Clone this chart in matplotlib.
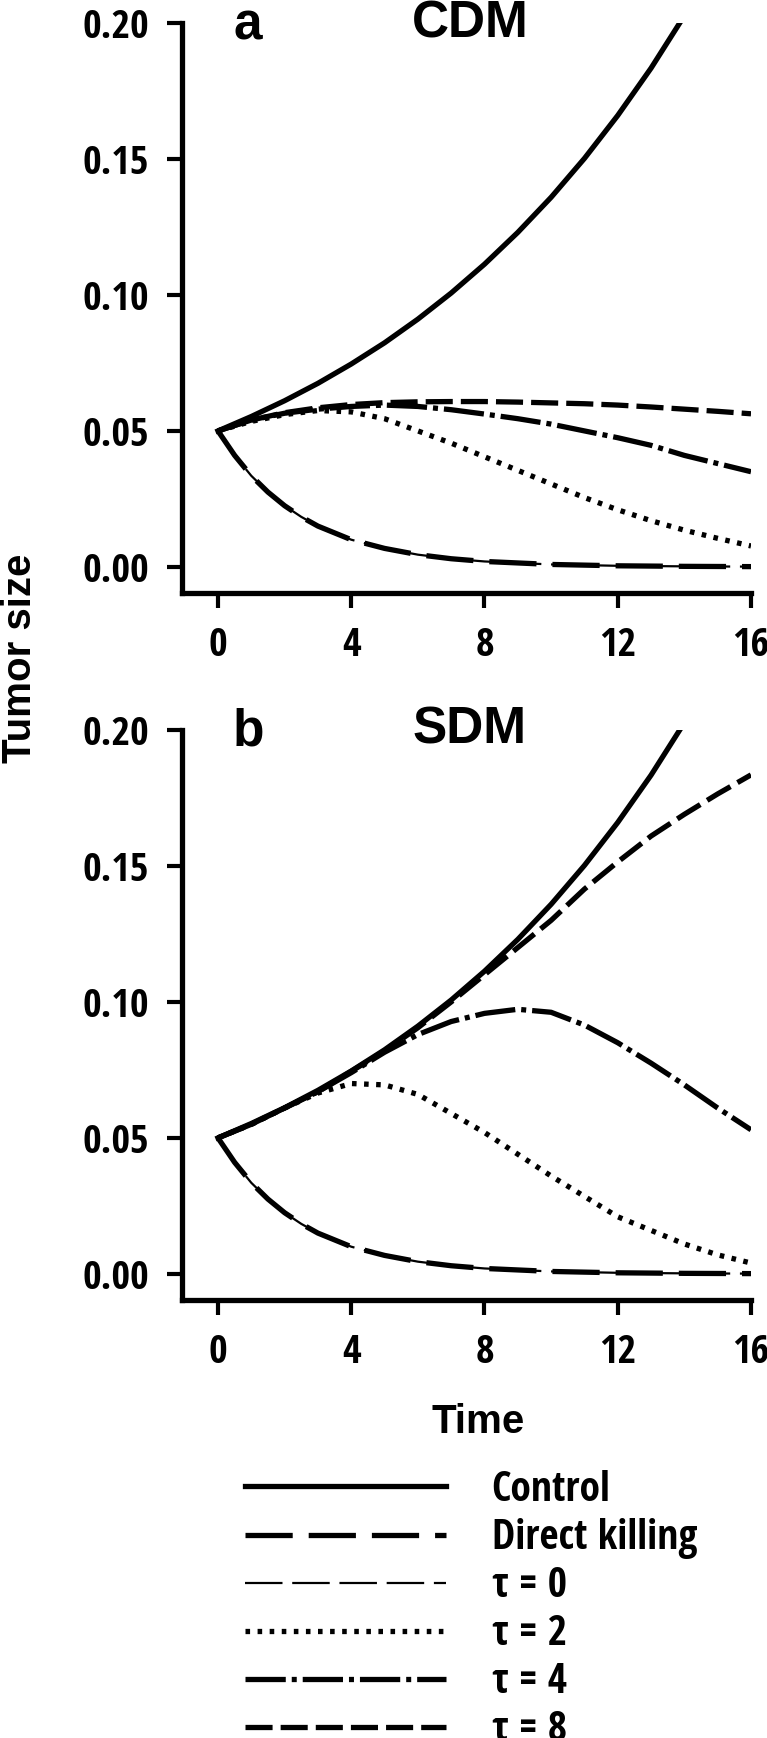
import numpy as np
import matplotlib
matplotlib.use('Agg')
import matplotlib.pyplot as plt
from matplotlib import font_manager
from matplotlib.font_manager import FontProperties

# look for a condensed bold sans face (ticks and legend use one in the original)
def find_narrow():
    best = None
    for f in font_manager.fontManager.ttflist:
        nm = f.name + ' ' + str(f.fname)
        cond = ('Narrow' in nm or 'Condensed' in nm or 'condensed' in str(f.stretch))
        bold = f.weight in (700, 'bold') or 'Bold' in str(f.fname)
        if cond and bold and f.style == 'normal' and 'Mono' not in nm and 'Serif' not in nm:
            if best is None or 'Sans' in nm:
                best = f.fname
    return best

narrow_file = find_narrow()
wide = 'Liberation Sans'
plt.rcParams['lines.scale_dashes'] = False

# values (tumor size vs time)
t_int = [0, 1, 2, 3, 4, 5, 6, 7, 8, 9, 10, 11, 12, 13, 14, 15, 16]
t_ctrl = [0, 1, 2, 3, 4, 5, 6, 7, 8, 9, 10, 11, 12, 13, 14]
control = [0.050, 0.0553, 0.0611, 0.0675, 0.0746, 0.0824, 0.0911, 0.1007, 0.1113, 0.1230, 0.1359, 0.1502, 0.1660, 0.1834, 0.2027]

t_kill = [0, 0.5, 1, 1.5, 2, 2.5, 3, 4, 5, 6, 7, 8, 10, 12, 14, 16]
direct_killing = [0.050, 0.041, 0.0335, 0.0275, 0.0225, 0.0184, 0.015, 0.010, 0.0068, 0.0045, 0.003, 0.002, 0.0009, 0.0004, 0.0002, 0.0001]
tau0 = direct_killing  # coincides with direct killing in both models

# CDM
cdm_tau2 = [0.050, 0.0535, 0.056, 0.0575, 0.057, 0.0545, 0.050, 0.0455, 0.0405, 0.0355, 0.0305, 0.0255, 0.021, 0.017, 0.0135, 0.0105, 0.0077]
cdm_tau4 = [0.050, 0.054, 0.0565, 0.058, 0.059, 0.0595, 0.059, 0.0578, 0.0562, 0.0545, 0.0525, 0.050, 0.0475, 0.0447, 0.041, 0.038, 0.035]
cdm_tau8 = [0.050, 0.054, 0.0567, 0.0585, 0.0597, 0.0604, 0.0607, 0.0608, 0.0608, 0.0606, 0.0603, 0.060, 0.0595, 0.0588, 0.058, 0.0572, 0.0563]

# SDM
sdm_tau2 = [0.050, 0.055, 0.061, 0.0665, 0.070, 0.0695, 0.066, 0.059, 0.052, 0.044, 0.036, 0.0285, 0.021, 0.016, 0.011, 0.007, 0.004]
sdm_tau4 = [0.050, 0.055, 0.061, 0.067, 0.074, 0.0815, 0.088, 0.0928, 0.0958, 0.0973, 0.0962, 0.0915, 0.085, 0.0775, 0.0695, 0.061, 0.053]
sdm_tau8 = [0.050, 0.055, 0.061, 0.067, 0.0745, 0.082, 0.0905, 0.100, 0.110, 0.120, 0.130, 0.1415, 0.1515, 0.161, 0.169, 0.1765, 0.1835]

xticks = [0, 4, 8, 12, 16]
yticks = [0.00, 0.05, 0.10, 0.15, 0.20]
legend_labels = ['Control', 'Direct killing', 'τ = 0', 'τ = 2', 'τ = 4', 'τ = 8']

if narrow_file:
    tick_fp = FontProperties(fname=narrow_file, size=29)
    leg_fp = FontProperties(fname=narrow_file, size=30)
else:
    tick_fp = FontProperties(family=wide, weight='bold', size=25)
    leg_fp = FontProperties(family=wide, weight='bold', size=26)

W, H = 767, 1738
fig = plt.figure(figsize=(W / 100, H / 100), dpi=100)

panels = [
    ('a', 'CDM', cdm_tau2, cdm_tau4, cdm_tau8, 0),
    ('b', 'SDM', sdm_tau2, sdm_tau4, sdm_tau8, 707),
]

lw = 3.8
handles = None
for letter, title, tau2, tau4, tau8, off in panels:
    top, bot = 23 + off, 593 + off
    ax = fig.add_axes([182 / W, 1 - bot / H, (751 - 182) / W, (bot - top) / H])
    h1, = ax.plot(t_ctrl, control, color='black', lw=lw)
    h2, = ax.plot(t_kill, direct_killing, color='black', lw=lw, linestyle=(0, (34, 11.5)))
    h3, = ax.plot(t_kill, tau0, color='black', lw=1.6, linestyle=(0, (27, 7)))
    h4, = ax.plot(t_int, tau2, color='black', lw=lw, linestyle=(0, (3.3, 5.4)))
    h5, = ax.plot(t_int, tau4, color='black', lw=lw, linestyle=(0, (29, 4.3, 3.6, 4.3)))
    h6, = ax.plot(t_int, tau8, color='black', lw=lw, linestyle=(0, (19.5, 5.8)))
    if handles is None:
        handles = [h1, h2, h3, h4, h5, h6]

    ax.set_xlim(-1.08, 16)
    ax.set_ylim(-0.0096, 0.20)
    for s in ['top', 'right']:
        ax.spines[s].set_visible(False)
    for s in ['left', 'bottom']:
        ax.spines[s].set_linewidth(lw)
    ax.set_xticks(xticks)
    ax.set_yticks(yticks)
    ax.set_yticklabels(['%.2f' % v for v in yticks])
    ax.tick_params(length=11, width=3, pad=13)
    for lab in ax.get_xticklabels() + ax.get_yticklabels():
        lab.set_fontproperties(tick_fp)

    fig.text(248 / W, 1 - (39 + off) / H, letter, ha='center', va='baseline',
             fontsize=37, fontweight='bold', family=wide)
    fig.text(470 / W, 1 - (37 + off) / H, title, ha='center', va='baseline',
             fontsize=37, fontweight='bold', family=wide)

fig.text(20 / W, 1 - 658 / H, 'Tumor size', rotation=90, ha='center', va='center',
         fontsize=29, fontweight='bold', family=wide)
fig.text(478 / W, 1 - 1422 / H, 'Time', ha='center', va='center',
         fontsize=29, fontweight='bold', family=wide)

fig.legend(handles, legend_labels, loc='upper left', bbox_to_anchor=(245 / W, 1 - 1470 / H),
           frameon=False, handlelength=4.82, handletextpad=1.1, labelspacing=0.17,
           borderpad=0, borderaxespad=0, prop=leg_fp)

fig.savefig('out.png', dpi=100)
